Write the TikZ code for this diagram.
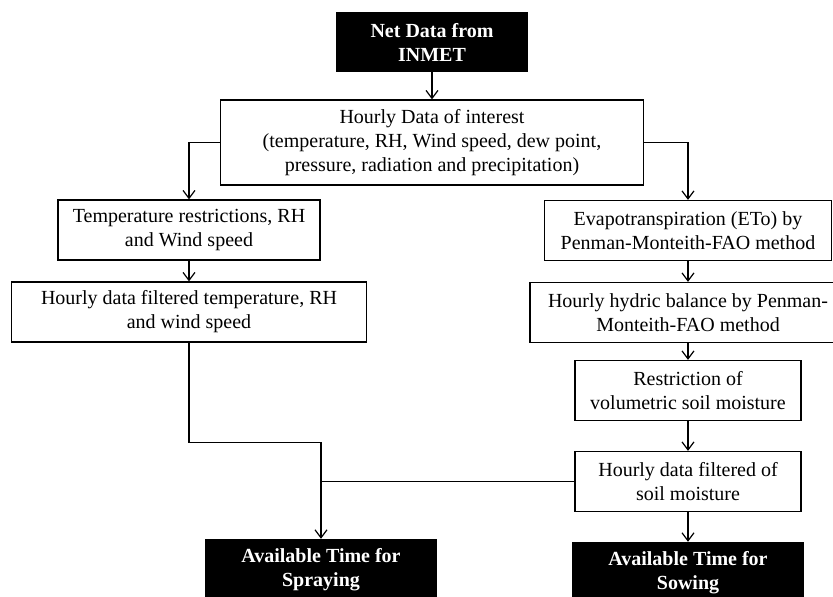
\documentclass[tikz,border=0pt]{standalone}
\usepackage{fontspec}
\setmainfont{Liberation Serif}
\usetikzlibrary{arrows.meta}
\tikzstyle{startstop} = [rectangle, 
minimum width=232pt, 
minimum height=62pt,
align=center, 
fill=black, 
text=white,
font=\fontsize{20}{24}\selectfont\bfseries]
\tikzstyle{process} = [rectangle, 
minimum height=60pt, 
align=center, 
draw=black, 
line width=1.2pt,
fill=white]
\tikzstyle{arrow} = [line width=1.2pt,->,>={Straight Barb[length=8pt,width=12pt]}]

\begin{document}
\begin{tikzpicture}[node distance=82pt, x=1pt, y=1pt,
  font=\fontsize{20}{24}\selectfont]
\useasboundingbox (0,0) rectangle (833,-597);

\node (net) [startstop, minimum width=192pt, minimum height=60pt] at (432,-42) {Net Data from\\INMET};
\node (hourly) [process, minimum width=423pt, minimum height=85pt, below of=net, yshift=-18.5pt] {Hourly Data of interest\\(temperature, RH, Wind speed, dew point,\\pressure, radiation and precipitation)};

\node (temp) [process, minimum width=262pt, below of=hourly, xshift=-243pt, yshift=-5.5pt] {Temperature restrictions, RH\\and Wind speed};
\node (tfilt) [process, minimum width=355pt, below of=temp] {Hourly data filtered temperature, RH\\and wind speed};

\node (eto) [process, minimum width=287pt, below of=hourly, xshift=256pt, yshift=-6pt] {Evapotranspiration (ETo) by\\Penman-Monteith-FAO method};
\node (hydric) [process, minimum width=316pt, below of=eto] {Hourly hydric balance by Penman-\\Monteith-FAO method};
\node (restr) [process, minimum width=226pt, below of=hydric, yshift=4pt] {Restriction of\\volumetric soil moisture};
\node (soil) [process, minimum width=226pt, below of=restr, yshift=-9pt] {Hourly data filtered of\\soil moisture};

\node (spray) [startstop] at (321,-570) {Available Time for\\Spraying};
\node (sow) [startstop, below of=soil, yshift=-9.5pt] {Available Time for\\Sowing};

\draw [arrow] (net) -- (hourly);
\draw [arrow] (hourly.west) -| (temp);
\draw [arrow] (hourly.east) -| (eto);
\draw [arrow] (temp) -- (tfilt);
\draw [arrow] (eto) -- (hydric);
\draw [arrow] (hydric) -- (restr);
\draw [arrow] (restr) -- (soil);
\draw [arrow] (soil) -- (sow);
\draw [arrow] (tfilt.south) -- ++(0,-100) -| (spray.north);
\draw [line width=1.2pt] (soil.west) -- (soil.west -| spray.north);

\end{tikzpicture}
\end{document}
